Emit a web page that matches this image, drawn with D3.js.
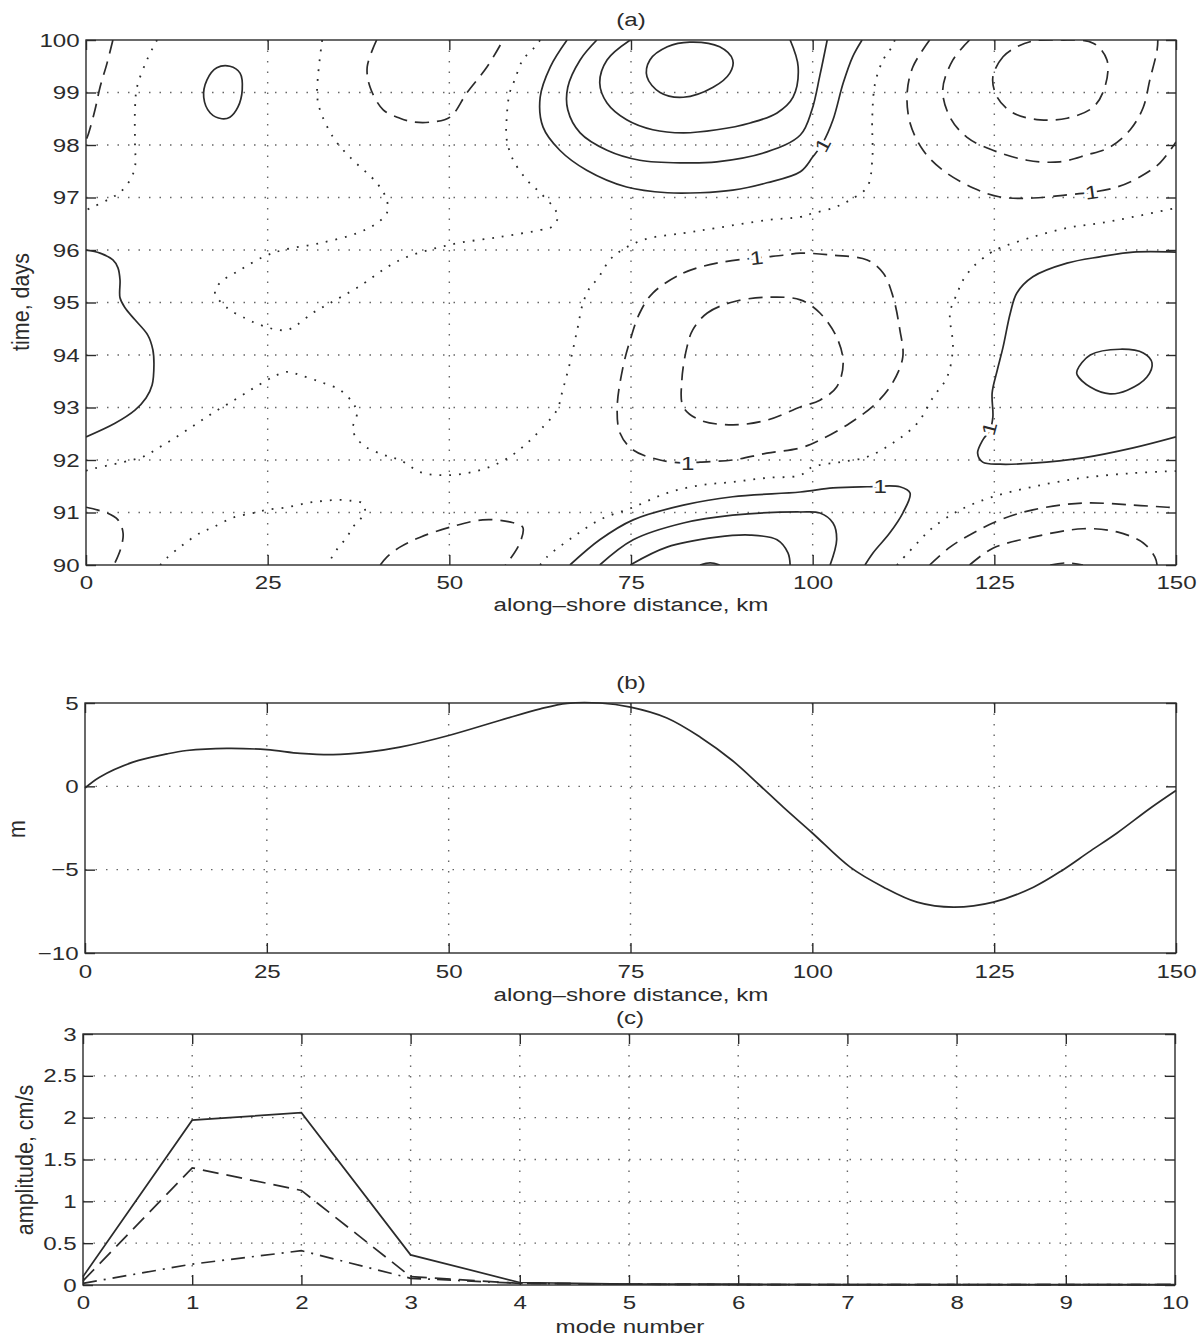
<!DOCTYPE html>
<html>
<head>
<meta charset="utf-8">
<script src="https://cdn.jsdelivr.net/npm/d3@7"></script>
<style>
  body { margin: 0; background: #fff; }
</style>
</head>
<body>
<svg id="chart" width="1199" height="1342"></svg>
<script>
// ---------- panel (a): contour lines, [km, day] ----------
const solidOpen = [
  [[66.2,100],[63.9,99.49],[62.5,98.91],[62.9,98.34],[65.2,97.9],[68.9,97.52],[74.4,97.2],[80,97.09],[84.5,97.09],[89,97.14],[93.7,97.28],[98.3,97.49],[100,97.77],[101.4,98.04],[102.8,98.48],[104.2,99.18],[105.5,99.68],[106.8,100]],
  [[70.3,100],[68,99.62],[66.3,99.1],[66.3,98.67],[68,98.23],[71.7,97.9],[76.2,97.71],[82.2,97.66],[86.8,97.68],[93.7,97.87],[98.3,98.19],[99.9,98.67],[101,99.33],[102,100]],
  [[74.9,100],[71.7,99.62],[70.7,99.18],[71.7,98.8],[74.4,98.48],[78,98.29],[82.2,98.23],[86.8,98.29],[91.4,98.42],[95.1,98.61],[97.3,98.91],[98,99.49],[96.9,100]],
  [[0,96],[1.93,95.94],[3.7,95.81],[4.4,95.66],[4.68,95.43],[4.68,95.09],[5.37,94.9],[6.74,94.67],[8.5,94.38],[9.2,94.1],[9.35,93.81],[9.1,93.43],[8.26,93.18],[6.74,92.95],[3.99,92.7],[0,92.44]],
  [[150,95.96],[144.1,95.96],[139.5,95.87],[135,95.75],[130.3,95.49],[128.1,95.18],[127.2,94.8],[126.2,94.15],[125.4,93.71],[124.7,93.28],[124.8,92.82],[124.4,92.57],[123.4,92.38],[122.7,92.13],[123.4,91.96],[125.8,91.92],[130.3,91.94],[137.2,92.04],[144.1,92.23],[150,92.44]],
  [[66.6,90],[70.7,90.48],[75.3,90.86],[82.2,91.14],[89,91.3],[98.3,91.39],[102.8,91.47],[107.5,91.49],[112,91.49],[113.4,91.37],[112.4,90.99],[110.6,90.61],[108.3,90.23],[107.2,90]],
  [[70.7,90],[75.3,90.48],[82.2,90.8],[89,90.95],[98.3,91.01],[101,90.99],[102.8,90.8],[103.3,90.48],[102.4,90]],
  [[74.9,90],[79.95,90.34],[86.8,90.53],[91.4,90.57],[95.1,90.48],[96.6,90.23],[96.9,90]],
  [[84.5,90],[85.9,90.04],[87.2,90]]
];
const solidClosed = [
  [[19.8,99.5],[21.2,99.37],[21.5,99.05],[20.9,98.72],[19.8,98.53],[18.7,98.5],[17.1,98.61],[16.2,98.91],[16.65,99.24],[18,99.47]],
  [[83.1,99.96],[87.2,99.87],[89,99.62],[88.6,99.37],[86.3,99.1],[82.2,98.91],[79,99],[77.2,99.3],[77.6,99.62],[80,99.87]],
  [[136.4,93.71],[138.2,94],[142.3,94.11],[145.5,94.04],[146.7,93.85],[146,93.58],[143.3,93.33],[140.9,93.26],[138.2,93.39],[136.4,93.62]]
];
const dashedOpen = [
  [[3.7,100],[2.9,99.56],[1.93,99.1],[1.24,98.67],[0.28,98.19],[0,98.1]],
  [[40,100],[38.7,99.49],[39.1,99.1],[40.9,98.67],[43.2,98.51],[45,98.44],[47.7,98.44],[50.1,98.53],[52.4,98.99],[55.2,99.49],[57.4,100]],
  [[116.1,100],[113.8,99.49],[113,98.99],[113.4,98.42],[115.2,97.9],[117.9,97.52],[122.1,97.18],[125.8,97.01],[130.3,96.99],[135,97.05],[138.4,97.1],[141.9,97.2],[145,97.39],[147.8,97.66],[150,98.06]],
  [[121.6,100],[119.3,99.62],[117.9,99.05],[118.9,98.53],[121.2,98.15],[124.8,97.9],[129.5,97.71],[134,97.68],[137.7,97.81],[140.9,97.96],[143.7,98.29],[145.5,98.72],[146.4,99.24],[147.4,99.81],[147.5,100]],
  [[0,91.1],[2.9,90.99],[4.4,90.86],[5.1,90.61],[4.8,90.32],[3.85,90]],
  [[40.5,90],[41.4,90.15],[43.2,90.34],[46,90.53],[50.1,90.72],[54.6,90.86],[58.3,90.82],[60.1,90.72],[59.7,90.42],[58.3,90.1],[57.7,90]],
  [[116.1,90],[118.9,90.34],[122.1,90.61],[125.8,90.86],[130.3,91.05],[137.2,91.18],[144.1,91.14],[148.8,91.1],[150,91.09]],
  [[121.6,90],[124.8,90.32],[130.3,90.53],[137.2,90.69],[141.9,90.63],[145.5,90.42],[147.1,90.15],[147.4,90]],
  [[132.7,90],[135,90.04],[137.2,90]]
];
const dashedClosed = [
  [[128.1,99.87],[126.2,99.68],[124.8,99.3],[125.4,98.91],[127.6,98.61],[131.3,98.48],[135,98.51],[138.6,98.72],[140.2,99.1],[140.5,99.62],[138.6,99.94],[134,100],[130.3,99.98]],
  [[78,95.18],[82.2,95.56],[86.8,95.75],[92.3,95.85],[95.9,95.9],[98.3,95.94],[102.8,95.9],[107.5,95.81],[109.7,95.56],[111,95.14],[112,94.48],[112.4,93.96],[111,93.47],[108.8,93.09],[105.1,92.7],[101,92.38],[98.3,92.23],[93.7,92.13],[89,92],[84.5,91.96],[82.7,91.94],[79,92],[75.3,92.19],[73.5,92.51],[73.1,93.01],[73.9,93.77],[74.9,94.29],[76.2,94.8]],
  [[83.5,94.48],[85.5,94.8],[89,95.01],[93.7,95.1],[98.3,95.05],[101,94.8],[103.3,94.34],[104.2,93.85],[103.3,93.39],[101,93.14],[98.3,93.01],[93.7,92.76],[89,92.67],[84.5,92.76],[82.2,93.01],[82,93.52],[82.7,94.15]]
];
const dottedOpen = [
  [[9.77,100],[8.39,99.62],[7.02,99.1],[6.74,98.67],[6.74,98.04],[6.74,97.58],[6.05,97.33],[4.68,97.1],[2.89,96.95],[0.96,96.82],[0,96.76]],
  [[32.5,100],[31.8,98.99],[32.2,98.67],[34,98.15],[36.3,97.77],[40,97.28],[41.4,96.95],[41.4,96.7],[40,96.51],[37.3,96.32],[32.2,96.13],[27.1,96],[24.4,95.87],[21.2,95.62],[18.4,95.37],[17.75,95.18],[19.4,94.9],[21.9,94.7],[23.3,94.61],[24.9,94.53],[26.3,94.48],[27.7,94.48],[29,94.57],[31.2,94.8],[33.6,94.99],[37.3,95.28],[43.2,95.81],[50.1,96.1],[57,96.25],[62.5,96.38],[64.1,96.44],[64.95,96.63],[64.3,96.82],[62.5,97.09],[60.7,97.33],[58.8,97.71],[57.9,98.1],[57.9,98.53],[58.3,98.99],[59,99.24],[60.1,99.62],[61.8,99.87],[62.5,100]],
  [[111.3,100],[110.9,99.87],[109.7,99.62],[108.6,99.18],[108.2,98.53],[108.2,97.71],[107.5,97.2],[105.1,96.95],[102.8,96.8],[100,96.7],[98.3,96.63],[93.7,96.57],[86.8,96.42],[82.2,96.32],[76.6,96.19],[72.5,95.87],[70.3,95.43],[69.4,95.3],[68.4,94.99],[67.6,94.48],[66.6,93.85],[65.6,93.33],[64.8,92.95],[62.9,92.63],[60.7,92.32],[58.3,92.06],[55.6,91.87],[52.4,91.75],[49.1,91.71],[46,91.77],[43.2,92],[40.9,92.1],[38.1,92.29],[36.7,92.57],[37.3,92.9],[36.7,93.09],[35,93.33],[32.2,93.49],[29.4,93.62],[27.8,93.68],[26.3,93.62],[24.9,93.52],[22.6,93.33],[19.8,93.09],[17.5,92.9],[15.3,92.7],[12.9,92.48],[10.2,92.25],[7.8,92.06],[5.1,91.96],[0.3,91.81],[0,91.79]],
  [[62.5,90],[63.4,90.15],[67,90.53],[70.7,90.86],[75.3,91.1],[79.95,91.37],[84.5,91.52],[89,91.58],[93.7,91.66],[98.3,91.71],[100,91.87],[103.8,91.96],[107.5,92.06],[111,92.32],[114.4,92.7],[116.6,93.2],[118.5,93.58],[119.3,94.15],[118.9,94.8],[119.9,95.18],[120.7,95.43],[122.1,95.68],[124.4,95.94],[125.8,96.04],[130.3,96.25],[135,96.42],[139.5,96.51],[144.1,96.63],[150,96.8]],
  [[111.6,90],[114.4,90.42],[116.6,90.72],[120.3,91.05],[124.8,91.3],[130.3,91.49],[137.2,91.66],[144.1,91.75],[150,91.79]],
  [[10.2,90],[11.1,90.13],[13.3,90.38],[15.7,90.61],[17.5,90.72],[20.2,90.9],[23,90.99],[24.9,91.05],[27.7,91.1],[30.4,91.18],[32.6,91.22],[35,91.24],[36.7,91.22],[38,91.18],[38.4,91.05],[37.7,90.86],[36.7,90.72],[35.9,90.53],[34.5,90.29],[33.2,90]]
];
// contour level labels: [km, day, rotation]
const levelLabels = [[101.4,98.0,-62],[138.4,97.1,-8],[92.3,95.85,-7],[82.8,91.93,0],[109.3,91.49,0],[124.3,92.6,-75]];
const xTicksKm = [0, 25, 50, 75, 100, 125, 150];
const yTicksDay = [90, 91, 92, 93, 94, 95, 96, 97, 98, 99, 100];

// ---------- panel (b) ----------
const bKm = [0, 2, 6.6, 11.3, 14, 19.5, 25, 29.6, 34.1, 38.8, 43.3, 50, 57, 62.6, 66.3, 70.8, 75, 80, 84.6, 89, 92.8, 96, 100, 105.2, 109.8, 114.4, 119.4, 124.9, 130.4, 134.5, 138, 141.9, 146.5, 150];
const bM = [-0.1, 0.55, 1.45, 1.95, 2.15, 2.28, 2.2, 1.98, 1.9, 2.05, 2.35, 3.05, 3.95, 4.65, 4.98, 5.0, 4.75, 4.1, 2.95, 1.55, 0.05, -1.25, -2.8, -4.85, -6.05, -6.95, -7.25, -6.95, -6.05, -5.0, -3.95, -2.8, -1.3, -0.25];
const yTicksM = [-10, -5, 0, 5];

// ---------- panel (c) ----------
const modes = [0, 1, 2, 3, 4, 5, 6, 7, 8, 9, 10];
const ampSolid = [0.1, 1.97, 2.06, 0.36, 0.03, 0.01, 0.01, 0.005, 0.005, 0.005, 0.005];
const ampDashed = [0.05, 1.4, 1.13, 0.1, 0.02, 0.01, 0.005, 0.005, 0.005, 0.005, 0.005];
const ampDashDot = [0.02, 0.25, 0.41, 0.08, 0.02, 0.01, 0.005, 0.005, 0.005, 0.005, 0.005];
const yTicksAmp = [0, 0.5, 1, 1.5, 2, 2.5, 3];

// ---------- drawing ----------
const svg = d3.select('#chart');
const ink = '#2b2b2b';
const font = "'Liberation Sans', Arial, sans-serif";
const stretch = 1.27;   // the scanned lettering is wide
const fmt = d3.format('~g');

function label(str, x, y, rotate) {
    const t = rotate
        ? `translate(${x},${y}) rotate(${rotate}) scale(1.13,${stretch})`
        : `translate(${x},${y}) scale(${stretch},1)`;
    svg.append('text')
        .attr('transform', t)
        .attr('text-anchor', 'middle')
        .attr('dy', '0.35em')
        .attr('font-family', font)
        .attr('font-size', 19)
        .attr('fill', ink)
        .text(str);
}

function drawFrame(x, y, xTicks, yTicks, xPad, yPad) {
    const [x0, x1] = x.range();
    const [y0, y1] = y.range();
    const g = svg.append('g');

    g.selectAll(null).data(xTicks.slice(1, -1)).join('line')
        .attr('x1', d => x(d)).attr('x2', d => x(d))
        .attr('y1', y1).attr('y2', y0)
        .attr('stroke', '#666').attr('stroke-width', 1.4)
        .attr('stroke-dasharray', '1.5,9');
    g.selectAll(null).data(yTicks.slice(1, -1)).join('line')
        .attr('y1', d => y(d)).attr('y2', d => y(d))
        .attr('x1', x0).attr('x2', x1)
        .attr('stroke', '#666').attr('stroke-width', 1.4)
        .attr('stroke-dasharray', '1.5,9');

    const axes = [
        [d3.axisBottom(x).tickValues(xTicks).tickPadding(xPad).tickFormat(fmt), `translate(0,${y0})`, true],
        [d3.axisTop(x).tickValues(xTicks).tickFormat(() => ''), `translate(0,${y1})`, false],
        [d3.axisLeft(y).tickValues(yTicks).tickPadding(yPad).tickFormat(fmt), `translate(${x0},0)`, true],
        [d3.axisRight(y).tickValues(yTicks).tickFormat(() => ''), `translate(${x1},0)`, false]
    ];
    axes.forEach(([axis, tr, withText]) => {
        const ag = g.append('g')
            .attr('transform', tr)
            .call(axis.tickSizeInner(-10).tickSizeOuter(0));
        ag.select('.domain').remove();
        ag.selectAll('line').attr('stroke', ink).attr('stroke-width', 1.4);
        ag.selectAll('text')
            .attr('font-family', font)
            .attr('font-size', 19)
            .attr('fill', ink)
            .attr('transform', withText ? `scale(${stretch},1)` : null);
    });

    g.append('rect')
        .attr('x', x0).attr('y', y1)
        .attr('width', x1 - x0).attr('height', y0 - y1)
        .attr('fill', 'none').attr('stroke', ink).attr('stroke-width', 1.4);
}

// panel (a)
const xA = d3.scaleLinear().domain([0, 150]).range([86, 1176]);
const yA = d3.scaleLinear().domain([90, 100]).range([565, 40]);
drawFrame(xA, yA, xTicksKm, yTicksDay, 11, 5);

svg.append('clipPath').attr('id', 'clipA')
    .append('rect').attr('x', 86).attr('y', 40).attr('width', 1090).attr('height', 525);
const gA = svg.append('g').attr('clip-path', 'url(#clipA)');

const openLine = d3.line().x(d => xA(d[0])).y(d => yA(d[1])).curve(d3.curveCatmullRom.alpha(0.5));
const closedLine = d3.line().x(d => xA(d[0])).y(d => yA(d[1])).curve(d3.curveCatmullRomClosed.alpha(0.5));

function contours(data, gen, dash, width) {
    gA.selectAll(null).data(data).join('path')
        .attr('d', gen)
        .attr('fill', 'none')
        .attr('stroke', ink)
        .attr('stroke-width', width)
        .attr('stroke-dasharray', dash);
}
contours(dottedOpen, openLine, '1.8,8', 1.8);
contours(dashedOpen, openLine, '14,8', 1.7);
contours(dashedClosed, closedLine, '14,8', 1.7);
contours(solidOpen, openLine, null, 1.7);
contours(solidClosed, closedLine, null, 1.7);

gA.selectAll(null).data(levelLabels).join('text')
    .attr('transform', d => `translate(${xA(d[0])},${yA(d[1])}) rotate(${d[2]}) scale(${stretch},1)`)
    .attr('text-anchor', 'middle')
    .attr('dy', '0.35em')
    .attr('font-family', font)
    .attr('font-size', 19)
    .attr('fill', ink)
    .attr('stroke', '#fff')
    .attr('stroke-width', 5)
    .attr('paint-order', 'stroke')
    .text('1');

label('(a)', 631, 19);
label('along\u2013shore distance, km', 631, 604);
label('time, days', 21, 302, -90);

// panel (b)
const xB = d3.scaleLinear().domain([0, 150]).range([85, 1176]);
const yB = d3.scaleLinear().domain([-10, 5]).range([953, 703]);
drawFrame(xB, yB, xTicksKm, yTicksM, 12, 5);
svg.append('path')
    .attr('d', d3.line().x((d, i) => xB(bKm[i])).y(d => yB(d)).curve(d3.curveCatmullRom.alpha(0.5))(bM))
    .attr('fill', 'none').attr('stroke', ink).attr('stroke-width', 1.7);
label('(b)', 631, 682);
label('along\u2013shore distance, km', 631, 994);
label('m', 17, 829, -90);

// panel (c)
const xC = d3.scaleLinear().domain([0, 10]).range([83, 1175]);
const yC = d3.scaleLinear().domain([0, 3]).range([1285, 1034]);
drawFrame(xC, yC, modes, yTicksAmp, 11, 5);
const lineC = d3.line().x((d, i) => xC(modes[i])).y(d => yC(d));
[[ampSolid, null], [ampDashed, '16,8'], [ampDashDot, '14,7,2,7']].forEach(([vals, dash]) => {
    svg.append('path')
        .attr('d', lineC(vals))
        .attr('fill', 'none')
        .attr('stroke', ink)
        .attr('stroke-width', 1.7)
        .attr('stroke-dasharray', dash);
});
label('(c)', 630, 1017);
label('mode number', 630, 1326);
label('amplitude, cm/s', 25, 1160, -90);
</script>
</body>
</html>
